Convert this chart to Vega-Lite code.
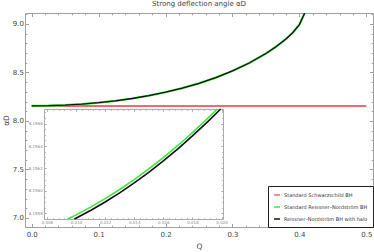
{
  "$schema": "https://vega.github.io/schema/vega-lite/v6.json",
  "width": 348,
  "height": 214,
  "autosize": {"type": "none"},
  "padding": {"left": 25, "top": 13, "right": 1, "bottom": 25},
  "background": "white",
  "title": {"text": "Strong deflection angle αD", "fontSize": 7, "font": "DejaVu Sans", "fontWeight": "normal", "color": "#444", "offset": 3, "anchor": "middle"},
  "config": {
    "view": {"stroke": null},
    "axis": {"grid": false, "domainColor": "#a0a0a0", "tickColor": "#a0a0a0", "labelColor": "#444", "labelFont": "DejaVu Sans", "labelFontSize": 7, "titleFont": "DejaVu Sans", "titleFontWeight": "normal", "titleColor": "#444", "titleFontSize": 7.5},
    "legend": {"orient": "bottom-right", "offset": 0, "strokeColor": "#222", "fillColor": "white", "padding": 5, "symbolType": "stroke", "symbolSize": 36, "symbolStrokeWidth": 1.5, "labelFontSize": 5, "labelFont": "DejaVu Sans", "labelColor": "#333", "rowPadding": 5, "labelOffset": 3, "cornerRadius": 0, "strokeWidth": 1}
  },
  "datasets": {
    "schw": [
      {"Q": 0, "v": 8.1548, "series": "Standard Schwarzschild BH"},
      {"Q": 0.5, "v": 8.1548, "series": "Standard Schwarzschild BH"}
    ],
    "rnMain": [
      {"Q": 0, "v": 8.1555, "series": "Standard Reissner–Nordström BH"},
      {"Q": 0.025, "v": 8.1576, "series": "Standard Reissner–Nordström BH"},
      {"Q": 0.05, "v": 8.1637, "series": "Standard Reissner–Nordström BH"},
      {"Q": 0.075, "v": 8.1742, "series": "Standard Reissner–Nordström BH"},
      {"Q": 0.1, "v": 8.1888, "series": "Standard Reissner–Nordström BH"},
      {"Q": 0.125, "v": 8.2078, "series": "Standard Reissner–Nordström BH"},
      {"Q": 0.15, "v": 8.2318, "series": "Standard Reissner–Nordström BH"},
      {"Q": 0.175, "v": 8.2612, "series": "Standard Reissner–Nordström BH"},
      {"Q": 0.2, "v": 8.2965, "series": "Standard Reissner–Nordström BH"},
      {"Q": 0.225, "v": 8.3385, "series": "Standard Reissner–Nordström BH"},
      {"Q": 0.25, "v": 8.388, "series": "Standard Reissner–Nordström BH"},
      {"Q": 0.275, "v": 8.4465, "series": "Standard Reissner–Nordström BH"},
      {"Q": 0.3, "v": 8.5155, "series": "Standard Reissner–Nordström BH"},
      {"Q": 0.325, "v": 8.5975, "series": "Standard Reissner–Nordström BH"},
      {"Q": 0.35, "v": 8.695, "series": "Standard Reissner–Nordström BH"},
      {"Q": 0.365, "v": 8.765, "series": "Standard Reissner–Nordström BH"},
      {"Q": 0.38, "v": 8.846, "series": "Standard Reissner–Nordström BH"},
      {"Q": 0.39, "v": 8.91, "series": "Standard Reissner–Nordström BH"},
      {"Q": 0.4, "v": 8.993, "series": "Standard Reissner–Nordström BH"},
      {"Q": 0.41, "v": 9.145, "series": "Standard Reissner–Nordström BH"}
    ],
    "haloMain": [
      {"Q": 0, "v": 8.1555, "series": "Reissner–Nordström BH with halo"},
      {"Q": 0.025, "v": 8.1576, "series": "Reissner–Nordström BH with halo"},
      {"Q": 0.05, "v": 8.1637, "series": "Reissner–Nordström BH with halo"},
      {"Q": 0.075, "v": 8.1742, "series": "Reissner–Nordström BH with halo"},
      {"Q": 0.1, "v": 8.1888, "series": "Reissner–Nordström BH with halo"},
      {"Q": 0.125, "v": 8.2078, "series": "Reissner–Nordström BH with halo"},
      {"Q": 0.15, "v": 8.2318, "series": "Reissner–Nordström BH with halo"},
      {"Q": 0.175, "v": 8.2612, "series": "Reissner–Nordström BH with halo"},
      {"Q": 0.2, "v": 8.2965, "series": "Reissner–Nordström BH with halo"},
      {"Q": 0.225, "v": 8.3385, "series": "Reissner–Nordström BH with halo"},
      {"Q": 0.25, "v": 8.388, "series": "Reissner–Nordström BH with halo"},
      {"Q": 0.275, "v": 8.4465, "series": "Reissner–Nordström BH with halo"},
      {"Q": 0.3, "v": 8.5155, "series": "Reissner–Nordström BH with halo"},
      {"Q": 0.325, "v": 8.5975, "series": "Reissner–Nordström BH with halo"},
      {"Q": 0.35, "v": 8.695, "series": "Reissner–Nordström BH with halo"},
      {"Q": 0.365, "v": 8.765, "series": "Reissner–Nordström BH with halo"},
      {"Q": 0.38, "v": 8.846, "series": "Reissner–Nordström BH with halo"},
      {"Q": 0.39, "v": 8.91, "series": "Reissner–Nordström BH with halo"},
      {"Q": 0.4, "v": 8.993, "series": "Reissner–Nordström BH with halo"},
      {"Q": 0.41, "v": 9.145, "series": "Reissner–Nordström BH with halo"}
    ],
    "rnInset": [
      {"Q": 0.00942, "v": 8.15575, "series": "Standard Reissner–Nordström BH"},
      {"Q": 0.010, "v": 8.155787, "series": "Standard Reissner–Nordström BH"},
      {"Q": 0.011, "v": 8.155856, "series": "Standard Reissner–Nordström BH"},
      {"Q": 0.012, "v": 8.155931, "series": "Standard Reissner–Nordström BH"},
      {"Q": 0.013, "v": 8.156013, "series": "Standard Reissner–Nordström BH"},
      {"Q": 0.014, "v": 8.156101, "series": "Standard Reissner–Nordström BH"},
      {"Q": 0.015, "v": 8.156196, "series": "Standard Reissner–Nordström BH"},
      {"Q": 0.016, "v": 8.156297, "series": "Standard Reissner–Nordström BH"},
      {"Q": 0.017, "v": 8.156405, "series": "Standard Reissner–Nordström BH"},
      {"Q": 0.018, "v": 8.15652, "series": "Standard Reissner–Nordström BH"},
      {"Q": 0.019, "v": 8.156641, "series": "Standard Reissner–Nordström BH"},
      {"Q": 0.01971, "v": 8.15673, "series": "Standard Reissner–Nordström BH"}
    ],
    "haloInset": [
      {"Q": 0.00989, "v": 8.15575, "series": "Reissner–Nordström BH with halo"},
      {"Q": 0.011, "v": 8.155826, "series": "Reissner–Nordström BH with halo"},
      {"Q": 0.012, "v": 8.155901, "series": "Reissner–Nordström BH with halo"},
      {"Q": 0.013, "v": 8.155983, "series": "Reissner–Nordström BH with halo"},
      {"Q": 0.014, "v": 8.156071, "series": "Reissner–Nordström BH with halo"},
      {"Q": 0.015, "v": 8.156166, "series": "Reissner–Nordström BH with halo"},
      {"Q": 0.016, "v": 8.156267, "series": "Reissner–Nordström BH with halo"},
      {"Q": 0.017, "v": 8.156375, "series": "Reissner–Nordström BH with halo"},
      {"Q": 0.018, "v": 8.15649, "series": "Reissner–Nordström BH with halo"},
      {"Q": 0.019, "v": 8.156611, "series": "Reissner–Nordström BH with halo"},
      {"Q": 0.01994, "v": 8.15673, "series": "Reissner–Nordström BH with halo"}
    ]
  },
  "resolve": {"scale": {"x": "independent", "y": "independent"}},
  "layer": [
    {
      "data": {"name": "schw"},
      "mark": {"type": "line", "strokeWidth": 2, "clip": true},
      "encoding": {
        "x": {"field": "Q", "type": "quantitative", "scale": {"domain": [-0.01, 0.51], "nice": false, "zero": false},
          "axis": {"orient": "bottom", "title": "Q", "titlePadding": 3, "values": [0,0.02,0.04,0.06,0.08,0.1,0.12,0.14,0.16,0.18,0.2,0.22,0.24,0.26,0.28,0.3,0.32,0.34,0.36,0.38,0.4,0.42,0.44,0.46,0.48,0.5],
            "labelExpr": "abs(datum.value*10-round(datum.value*10))<0.001 ? format(datum.value,'.1f') : ''",
            "tickSize": {"condition": {"test": "abs(datum.value*10-round(datum.value*10))<0.001", "value": -3.5}, "value": -1.8},
            "labelPadding": 7, "labelFlush": false, "labelOverlap": false}},
        "y": {"field": "v", "type": "quantitative", "scale": {"domain": [6.907, 9.113], "nice": false, "zero": false},
          "axis": {"orient": "left", "title": "αD", "titlePadding": 2, "values": [7,7.1,7.2,7.3,7.4,7.5,7.6,7.7,7.8,7.9,8,8.1,8.2,8.3,8.4,8.5,8.6,8.7,8.8,8.9,9,9.1],
            "labelExpr": "abs(datum.value*2-round(datum.value*2))<0.001 ? format(datum.value,'.1f') : ''",
            "tickSize": {"condition": {"test": "abs(datum.value*2-round(datum.value*2))<0.001", "value": -3.5}, "value": -1.8},
            "labelPadding": 5, "labelFlush": false, "labelOverlap": false}},
        "color": {"field": "series", "type": "nominal", "sort": null,
          "scale": {"domain": ["Standard Schwarzschild BH", "Standard Reissner–Nordström BH", "Reissner–Nordström BH with halo"], "range": ["#f26a6a", "#3ee43e", "#111111"]},
          "legend": {"title": null}}
      }
    },
    {
      "data": {"name": "schw"},
      "mark": {"type": "point", "opacity": 0},
      "encoding": {
        "x": {"field": "Q", "type": "quantitative", "scale": {"domain": [-0.01, 0.51], "nice": false, "zero": false},
          "axis": {"orient": "top", "title": null, "labels": false, "values": [0,0.02,0.04,0.06,0.08,0.1,0.12,0.14,0.16,0.18,0.2,0.22,0.24,0.26,0.28,0.3,0.32,0.34,0.36,0.38,0.4,0.42,0.44,0.46,0.48,0.5],
            "tickSize": {"condition": {"test": "abs(datum.value*10-round(datum.value*10))<0.001", "value": -3.5}, "value": -1.8}}},
        "y": {"field": "v", "type": "quantitative", "scale": {"domain": [6.907, 9.113], "nice": false, "zero": false},
          "axis": {"orient": "right", "title": null, "labels": false, "values": [7,7.1,7.2,7.3,7.4,7.5,7.6,7.7,7.8,7.9,8,8.1,8.2,8.3,8.4,8.5,8.6,8.7,8.8,8.9,9,9.1],
            "tickSize": {"condition": {"test": "abs(datum.value*2-round(datum.value*2))<0.001", "value": -3.5}, "value": -1.8}}}
      }
    },
    {
      "data": {"name": "rnMain"},
      "mark": {"type": "line", "strokeWidth": 2.2, "clip": true},
      "encoding": {
        "x": {"field": "Q", "type": "quantitative", "scale": {"domain": [-0.01, 0.51], "nice": false, "zero": false}, "axis": null},
        "y": {"field": "v", "type": "quantitative", "scale": {"domain": [6.907, 9.113], "nice": false, "zero": false}, "axis": null},
        "color": {"field": "series", "type": "nominal", "sort": null}
      }
    },
    {
      "data": {"name": "haloMain"},
      "mark": {"type": "line", "strokeWidth": 1.3, "clip": true},
      "encoding": {
        "x": {"field": "Q", "type": "quantitative", "scale": {"domain": [-0.01, 0.51], "nice": false, "zero": false}, "axis": null},
        "y": {"field": "v", "type": "quantitative", "scale": {"domain": [6.907, 9.113], "nice": false, "zero": false}, "axis": null},
        "color": {"field": "series", "type": "nominal", "sort": null}
      }
    },
    {
      "data": {"name": "rnInset"},
      "mark": {"type": "line", "strokeWidth": 1.6},
      "encoding": {
        "x": {"field": "Q", "type": "quantitative", "scale": {"domain": [0.0078, 0.0201], "range": [19, 198], "nice": false, "zero": false},
          "axis": {"orient": "bottom", "offset": -8, "title": null, "values": [0.008,0.0084,0.0088,0.0092,0.0096,0.01,0.0104,0.0108,0.0112,0.0116,0.012,0.0124,0.0128,0.0132,0.0136,0.014,0.0144,0.0148,0.0152,0.0156,0.016,0.0164,0.0168,0.0172,0.0176,0.018,0.0184,0.0188,0.0192,0.0196,0.02],
            "labelExpr": "abs(datum.value*500-round(datum.value*500))<0.01 ? format(datum.value,'.3f') : ''",
            "tickSize": {"condition": {"test": "abs(datum.value*500-round(datum.value*500))<0.01", "value": -2.2}, "value": -1.2},
            "labelFontSize": 4, "labelColor": "#888", "labelPadding": 4, "labelFlush": false, "labelOverlap": false, "domainColor": "#aaa", "tickColor": "#aaa"}},
        "y": {"field": "v", "type": "quantitative", "scale": {"domain": [8.15575, 8.15673], "range": [206, 96], "nice": false, "zero": false},
          "axis": {"orient": "left", "offset": -19, "title": null, "values": [8.15575,8.1558,8.15585,8.1559,8.15595,8.156,8.15605,8.1561,8.15615,8.1562,8.15625,8.1563,8.15635,8.1564,8.15645,8.1565,8.15655,8.1566,8.15665,8.1567],
            "labelExpr": "abs(datum.value*5000-round(datum.value*5000))<0.01 ? format(datum.value,'.4f') : ''",
            "tickSize": {"condition": {"test": "abs(datum.value*5000-round(datum.value*5000))<0.01", "value": -2.2}, "value": -1.2},
            "labelFontSize": 4, "labelColor": "#888", "labelPadding": 4, "labelFlush": false, "labelOverlap": false, "domainColor": "#aaa", "tickColor": "#aaa"}},
        "color": {"field": "series", "type": "nominal", "sort": null}
      }
    },
    {
      "data": {"name": "haloInset"},
      "mark": {"type": "line", "strokeWidth": 1.6},
      "encoding": {
        "x": {"field": "Q", "type": "quantitative", "scale": {"domain": [0.0078, 0.0201], "range": [19, 198], "nice": false, "zero": false},
          "axis": {"orient": "top", "offset": -96, "title": null, "labels": false, "values": [0.008,0.0084,0.0088,0.0092,0.0096,0.01,0.0104,0.0108,0.0112,0.0116,0.012,0.0124,0.0128,0.0132,0.0136,0.014,0.0144,0.0148,0.0152,0.0156,0.016,0.0164,0.0168,0.0172,0.0176,0.018,0.0184,0.0188,0.0192,0.0196,0.02],
            "tickSize": {"condition": {"test": "abs(datum.value*500-round(datum.value*500))<0.01", "value": -2.2}, "value": -1.2},
            "domainColor": "#aaa", "tickColor": "#aaa"}},
        "y": {"field": "v", "type": "quantitative", "scale": {"domain": [8.15575, 8.15673], "range": [206, 96], "nice": false, "zero": false},
          "axis": {"orient": "right", "offset": -150, "title": null, "labels": false, "values": [8.15575,8.1558,8.15585,8.1559,8.15595,8.156,8.15605,8.1561,8.15615,8.1562,8.15625,8.1563,8.15635,8.1564,8.15645,8.1565,8.15655,8.1566,8.15665,8.1567],
            "tickSize": {"condition": {"test": "abs(datum.value*5000-round(datum.value*5000))<0.01", "value": -2.2}, "value": -1.2},
            "domainColor": "#aaa", "tickColor": "#aaa"}},
        "color": {"field": "series", "type": "nominal", "sort": null}
      }
    }
  ]
}
